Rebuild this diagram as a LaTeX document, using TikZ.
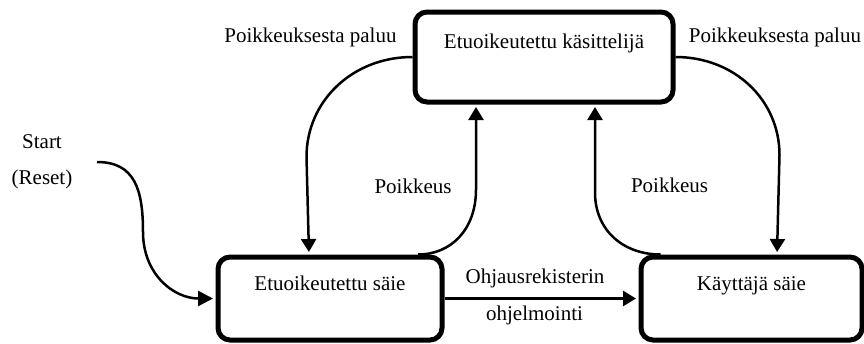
\documentclass[tikz,border=0pt]{standalone}
\usepackage{fontspec}
\setmainfont{Liberation Serif}
\usetikzlibrary{arrows.meta,calc}

\tikzset{
  state/.style={draw, line width=5pt, rounded corners=12pt, fill=white,
    text height=15pt, text depth=32pt, inner sep=0pt, align=center},
  arr/.style={line width=2.5pt, -{Triangle[length=13pt,width=15pt]}, shorten >=2.5pt},
  lbl/.style={anchor=base, inner sep=0pt},
}

\begin{document}
\begin{tikzpicture}[x=1pt, y=-1pt, font=\fontsize{21}{25}\selectfont]
  \useasboundingbox (0,0) rectangle (864,343);

  % states
  \node[state, minimum width=258pt, minimum height=90pt] (top) at (544,57) {Etuoikeutettu käsittelijä};
  \node[state, minimum width=224pt, minimum height=83pt] (lft) at (330,298.5) {Etuoikeutettu säie};
  \node[state, minimum width=221pt, minimum height=83pt] (rgt) at (751.5,298.5) {Käyttäjä säie};

  % reset entry
  \coordinate (start) at (97,162);
  \coordinate (bend) at (143,232);
  \draw[line width=2.5pt, -{Triangle[length=15pt,width=15pt]}, shorten >=2.5pt]
    (start) .. controls +(38,0) and +(0,-42) .. (bend)
            .. controls +(0,42) and +(-42,0) .. (lft.west);
  \node[lbl] (startlbl) at (42,148) {Start};
  \node[lbl] (resetlbl) at (42,184) {(Reset)};

  % return from exception
  \draw[arr] (top.west) .. controls +(-60,0) and +(0,-56) .. ($(top.west)+(-106,100)$)
             -- ($(lft.north)+(-21,0)$);
  \draw[arr] (top.east) .. controls +(59,0) and +(0,-55) .. ($(top.east)+(104,98)$)
             -- ($(rgt.north)+(25.5,0)$);
  \node[lbl] (retl) at (310.5,42) {Poikkeuksesta paluu};
  \node[lbl] (retr) at (775,42) {Poikkeuksesta paluu};

  % exceptions
  \draw[arr] ($(lft.north)+(88,0)$) .. controls +(33,0) and +(0,40) .. ($(top.south)+(-68,85)$)
             -- ($(top.south)+(-68,0)$);
  \draw[arr] ($(rgt.north)+(-91,0)$) .. controls +(-37,0) and +(0,38) .. ($(top.south)+(51,88)$)
             -- ($(top.south)+(51,0)$);
  \node[lbl] (excl) at (413,193) {Poikkeus};
  \node[lbl] (excr) at (669.5,192) {Poikkeus};

  % control register programming
  \draw[arr] (lft.east) -- (rgt.west);
  \node[lbl] (ctrl1) at (535,283) {Ohjausrekisterin};
  \node[lbl] (ctrl2) at (534.5,320) {ohjelmointi};
\end{tikzpicture}
\end{document}
